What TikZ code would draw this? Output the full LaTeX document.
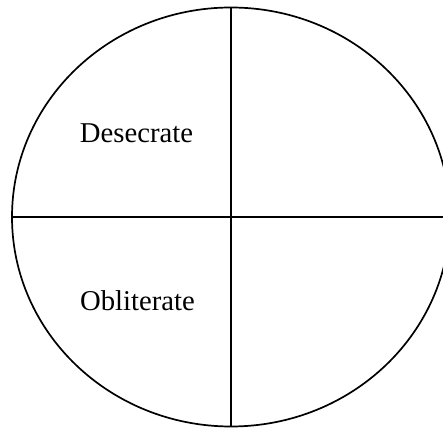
\documentclass[tikz,border=0pt]{standalone}
\usepackage{fontspec}
\setmainfont{Liberation Serif}
\usetikzlibrary{shapes.geometric}
\tikzset{
  outline/.style={draw=black, line width=1.7pt},
  quadlabel/.style={anchor=base, inner sep=0pt, font=\fontsize{28.7}{34}\selectfont}
}
\begin{document}
\begin{tikzpicture}[x=1pt,y=1pt]
  \useasboundingbox (0,0) rectangle (443,427);
  \node[ellipse, outline, inner sep=0pt, minimum width=438, minimum height=419] (c) at (231,210) {};
  \draw[outline] (c.north) -- (c.south);
  \draw[outline] (c.west) -- (c.east);
  \node[quadlabel] (d) at (136.5,284) {Desecrate};
  \node[quadlabel] (o) at (137.5,116) {Obliterate};
\end{tikzpicture}
\end{document}
